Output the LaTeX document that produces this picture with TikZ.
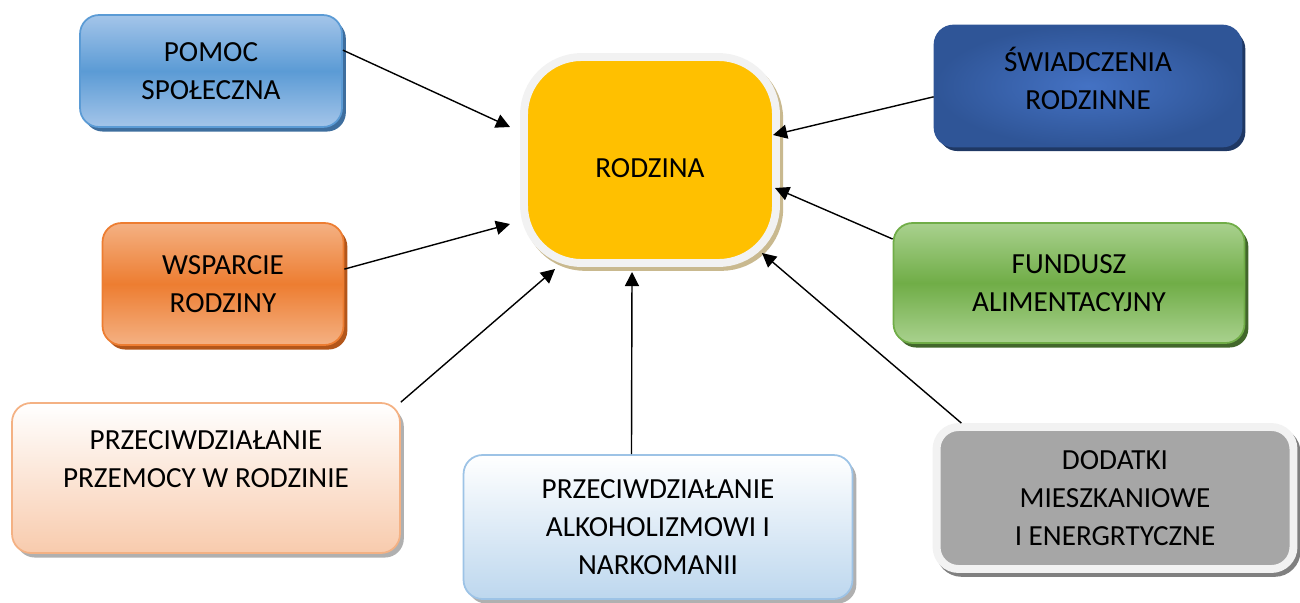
\documentclass[tikz,border=0pt]{standalone}
\usepackage{fontspec}
\setmainfont{Carlito}
\usetikzlibrary{arrows.meta, shadows}

\definecolor{blueface}{HTML}{5B9BD5}
\definecolor{bluelight}{HTML}{A4C5E9}
\definecolor{blueshadow}{HTML}{3E6E9E}
\definecolor{navyedge}{HTML}{2F5597}
\definecolor{navymid}{HTML}{4472C4}
\definecolor{navyshadow}{HTML}{1F3864}
\definecolor{orangeface}{HTML}{ED7D31}
\definecolor{orangelight}{HTML}{F4B183}
\definecolor{orangeshadow}{HTML}{B3561A}
\definecolor{greenface}{HTML}{70AD47}
\definecolor{greenlight}{HTML}{A9D18E}
\definecolor{greenshadow}{HTML}{42672B}
\definecolor{peach}{HTML}{F8CBAD}
\definecolor{skyblue}{HTML}{BDD7EE}
\definecolor{skyedge}{HTML}{9DC3E6}
\definecolor{gold}{HTML}{FFC000}
\definecolor{rim}{HTML}{F2F2F2}
\definecolor{tan}{HTML}{C9B98F}
\definecolor{midgray}{HTML}{A6A6A6}
\definecolor{softshadow}{HTML}{B0B0B0}

\begin{document}
\begin{tikzpicture}[x=0.02cm, y=-0.02cm,
    box/.style={rectangle, rounded corners=0.38cm, align=center, inner sep=0pt,
        font=\fontsize{16.6}{21.5}\selectfont, line width=1pt},
    shade/.style={drop shadow={shadow xshift=2.2pt, shadow yshift=-2.6pt, fill=#1, opacity=1}},
    arr/.style={-{Triangle[length=8pt,width=8pt]}, line width=0.8pt}]
    \useasboundingbox (0,0) rectangle (1300,602);

    % the centre
    \node[box, rounded corners=1.15cm, draw=rim, line width=4.5pt, fill=gold, text height=0.7cm,
        drop shadow={shadow xshift=1.8pt, shadow yshift=-2.2pt, fill=tan, draw=tan, line width=4.5pt, opacity=1},
        minimum width=5.04cm, minimum height=4.12cm] (rodzina) at (650,160) {RODZINA};

    % left column
    \node[box, draw=blueface, top color=bluelight, bottom color=bluelight, middle color=blueface, shade=blueshadow,
        minimum width=5.24cm, minimum height=2.24cm] (pomoc) at (211,71) {POMOC\\SPOŁECZNA};
    \node[box, draw=orangeface, top color=orangelight, bottom color=orangelight, middle color=orangeface, shade=orangeshadow,
        minimum width=4.82cm, minimum height=2.44cm] (wsparcie) at (223,284) {WSPARCIE\\RODZINY};
    \node[box, draw=orangelight, top color=white, bottom color=peach, shade=softshadow, text depth=0.75cm,
        minimum width=7.76cm, minimum height=3cm] (przemoc) at (206,478) {PRZECIWDZIAŁANIE\\PRZEMOCY W RODZINIE};

    % bottom
    \node[box, draw=skyedge, top color=white, bottom color=skyblue, shade=softshadow,
        minimum width=7.78cm, minimum height=2.88cm] (alkohol) at (658,527) {PRZECIWDZIAŁANIE\\ALKOHOLIZMOWI I\\NARKOMANII};

    % right column
    \node[box, draw=navyedge, inner color=navymid, outer color=navyedge, shade=navyshadow, text depth=0.3cm,
        minimum width=6.14cm, minimum height=2.42cm] (swiadczenia) at (1088,86) {ŚWIADCZENIA\\RODZINNE};
    \node[box, draw=greenface, top color=greenlight, bottom color=greenlight, middle color=greenface, shade=greenshadow,
        minimum width=7.02cm, minimum height=2.4cm] (fundusz) at (1069,283) {FUNDUSZ\\ALIMENTACYJNY};
    \node[box, rounded corners=0.44cm, draw=rim, line width=4.5pt, fill=midgray,
        drop shadow={shadow xshift=1.8pt, shadow yshift=-2.2pt, fill=gray, draw=gray, line width=4.5pt, opacity=1},
        minimum width=7.14cm, minimum height=2.84cm] (dodatki) at (1115,498) {DODATKI\\MIESZKANIOWE\\I ENERGRTYCZNE};

    % arrow tips
    \coordinate (t1) at (510,127);
    \coordinate (t2) at (773,135);
    \coordinate (t3) at (510,224);
    \coordinate (t4) at (775,188);
    \coordinate (t5) at (555,269);
    \coordinate (t6) at (632,272);
    \coordinate (t7) at (762,253);

    \draw[arr] (pomoc.9) -- (t1);
    \draw[arr] (swiadczenia.184) -- (t2);
    \draw[arr] (wsparcie.7) -- (t3);
    \draw[arr] (fundusz.166) -- (t4);
    \draw[arr] (przemoc.north east) -- (t5);
    \draw[arr] (alkohol.110) -- (t6);
    \draw[arr] (dodatki.154) -- (t7);
\end{tikzpicture}
\end{document}
